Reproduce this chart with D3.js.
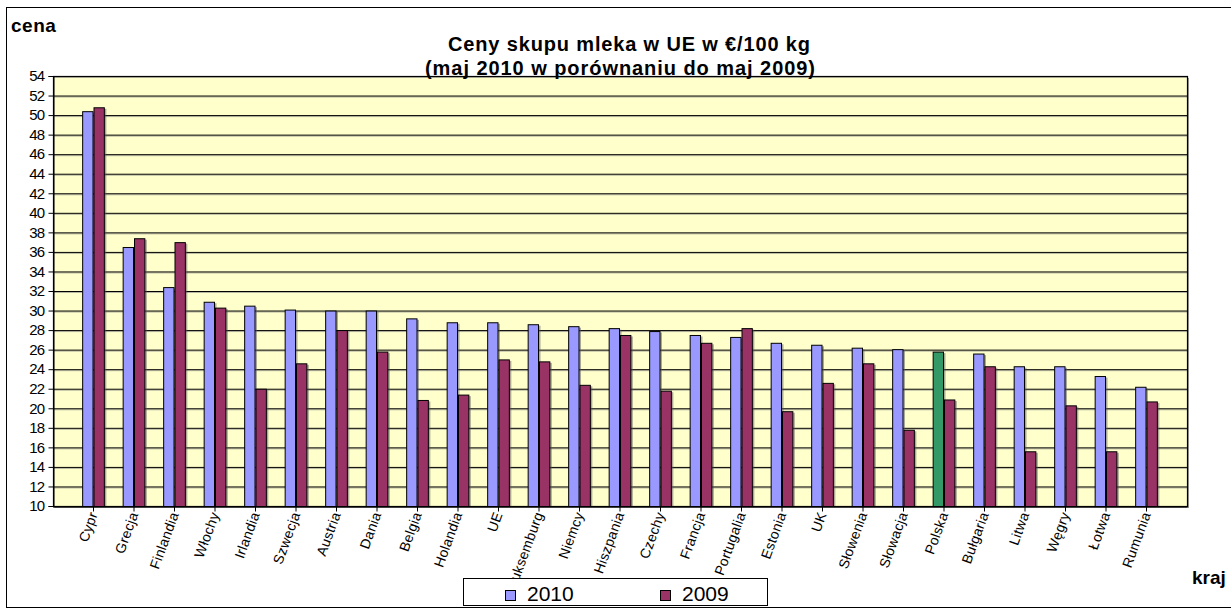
<!DOCTYPE html>
<html><head><meta charset="utf-8">
<script src="https://cdn.jsdelivr.net/npm/d3@7"></script>
<style>
body{margin:0;background:#fff;}
text{font-family:"Liberation Sans",Arial,sans-serif;}
</style></head>
<body><svg id="c" width="1231" height="610"></svg>
<script>
const categories = ["Cypr","Grecja","Finlandia","Włochy","Irlandia","Szwecja","Austria","Dania","Belgia","Holandia","UE","Luksemburg","Niemcy","Hiszpania","Czechy","Francja","Portugalia","Estonia","UK","Słowenia","Słowacja","Polska","Bułgaria","Litwa","Węgry","Łotwa","Rumunia"];
const values2010 = [50.4,36.5,32.4,30.9,30.5,30.1,30.0,30.0,29.2,28.8,28.8,28.6,28.4,28.2,27.9,27.5,27.3,26.7,26.5,26.2,26.05,25.8,25.6,24.3,24.3,23.3,22.2];
const values2009 = [50.8,37.4,37.0,30.3,22.0,24.6,28.0,25.8,20.85,21.4,25.0,24.8,22.4,27.5,21.8,26.7,28.2,19.7,22.6,24.6,17.8,20.9,24.3,15.6,20.3,15.6,20.7];
const seriesNames = ["2010","2009"];
const yTicks = d3.range(10, 55, 2);
const highlight = "Polska";

const colors = {"2010":"#9999ff","2009":"#993366", highlight:"#339966"};
const svg = d3.select("#c");
const L=53, R=1187, T=76, B=506;

// outer frame
svg.append("rect").attr("x",6.5).attr("y",7.5).attr("width",1230).attr("height",600)
  .attr("fill","#fff").attr("stroke","#000").attr("stroke-width",1);

const x0 = d3.scaleBand().domain(categories).range([L,R]).paddingInner(0.44).paddingOuter(0.72);
const x1 = d3.scaleBand().domain(seriesNames).range([0,x0.bandwidth()]);
const y = d3.scaleLinear().domain([10,54]).range([B,T]);

// plot shadow + background
svg.append("rect").attr("x",L+2).attr("y",T+2).attr("width",R-L).attr("height",B-T).attr("fill","#999");
svg.append("rect").attr("x",L).attr("y",T).attr("width",R-L).attr("height",B-T).attr("fill","#ffffcc");

// gridlines
const g = svg.append("g");
yTicks.forEach(t=>{
  g.append("line").attr("x1",L).attr("x2",R).attr("y1",y(t)+1.5).attr("y2",y(t)+1.5).attr("stroke","#888").attr("stroke-width",1).attr("opacity",0.6);
  g.append("line").attr("x1",L).attr("x2",R).attr("y1",y(t)+0.5).attr("y2",y(t)+0.5).attr("stroke","#000").attr("stroke-width",1);
});
svg.append("rect").attr("x",L+0.5).attr("y",T+0.5).attr("width",R-L).attr("height",B-T)
  .attr("fill","none").attr("stroke","#000").attr("stroke-width",1.2);

// bars
const data = categories.map((c,i)=>({c, v:[values2010[i], values2009[i]]}));
const bg = svg.append("g");
data.forEach(d=>{
  seriesNames.forEach((s,j)=>{
    const bx = x0(d.c)+x1(s), by = y(d.v[j]), bw = x1.bandwidth(), bh = B - y(d.v[j]);
    bg.append("rect").attr("x",bx+1.5).attr("y",by+1.5).attr("width",bw).attr("height",bh-1.5).attr("fill","#555").attr("opacity",0.5);
  });
});
data.forEach(d=>{
  seriesNames.forEach((s,j)=>{
    let col = colors[s];
    if (d.c===highlight && s==="2010") col = colors.highlight;
    bg.append("rect").attr("x",x0(d.c)+x1(s)+0.5).attr("y",y(d.v[j])+0.5)
      .attr("width",x1.bandwidth()-1).attr("height",B-y(d.v[j]))
      .attr("fill",col).attr("stroke","#000").attr("stroke-width",1);
  });
});

// y axis
const ya = svg.append("g").attr("transform",`translate(${L+0.5},0)`)
  .call(d3.axisLeft(y).tickValues(yTicks).tickSize(5).tickPadding(4));
ya.select(".domain").attr("stroke","#000");
ya.selectAll("text").attr("font-size",15).attr("fill","#000").attr("letter-spacing","-0.7px");

// x axis
const xa = svg.append("g").attr("transform",`translate(0,${B+0.5})`)
  .call(d3.axisBottom(x0).tickSize(5).tickSizeOuter(0));
xa.select(".domain").attr("stroke","#000");
xa.selectAll(".tick line").attr("stroke","#000");
xa.selectAll("text").attr("font-size",14).attr("fill","#000").attr("letter-spacing","0.3px")
  .attr("text-anchor","end").attr("transform","translate(-3,2) rotate(-70)")
  .attr("dx","-0.2em").attr("dy","0.35em").attr("y",4);

// titles
svg.append("text").attr("x",11).attr("y",32).attr("font-size",19).attr("font-weight","bold")
  .attr("letter-spacing","0.5px").text("cena");
svg.append("text").attr("x",448).attr("y",51).attr("font-size",20).attr("font-weight","bold")
  .attr("textLength",362).attr("lengthAdjust","spacing").text("Ceny skupu mleka w UE w €/100 kg");
svg.append("text").attr("x",425).attr("y",75).attr("font-size",20).attr("font-weight","bold")
  .attr("textLength",390).attr("lengthAdjust","spacing").text("(maj 2010 w porównaniu do maj 2009)");
svg.append("text").attr("x",1192).attr("y",584).attr("font-size",19).attr("font-weight","bold").text("kraj");

// legend
const lg = svg.append("g");
lg.append("rect").attr("x",463.5).attr("y",578.5).attr("width",304).attr("height",27).attr("fill","#fff").attr("stroke","#000");
const lx = [505, 660];
seriesNames.forEach((s,i)=>{
  lg.append("rect").attr("x",lx[i]+0.5).attr("y",590.5).attr("width",10).attr("height",10).attr("fill",colors[s]).attr("stroke","#000");
  lg.append("text").attr("x",lx[i]+22).attr("y",601).attr("font-size",21).text(s);
});
</script></body></html>
